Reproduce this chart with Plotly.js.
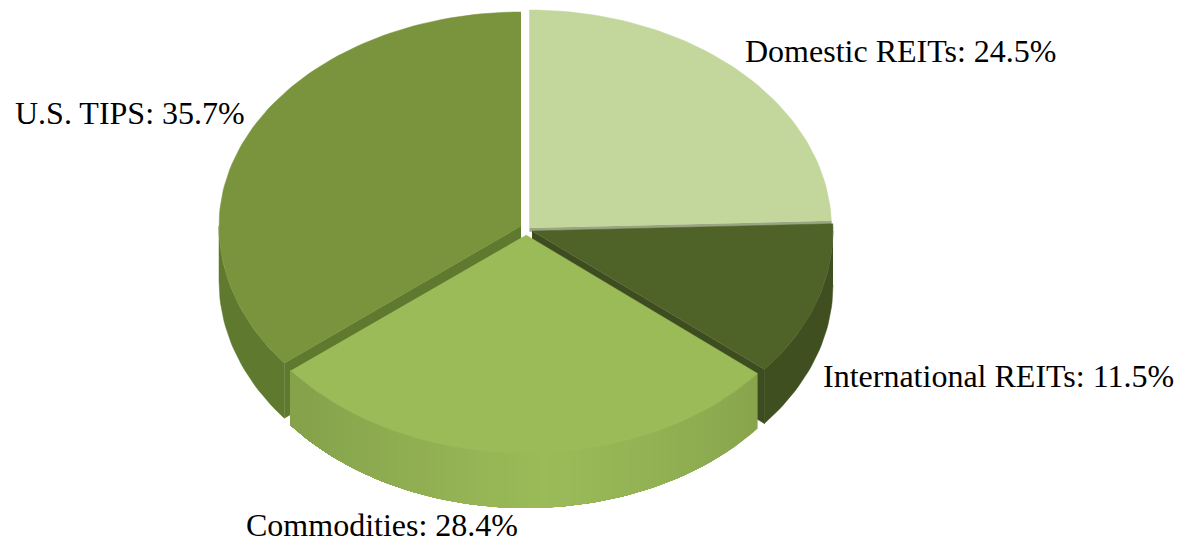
<!DOCTYPE html>
<html>
<head>
<meta charset="utf-8">
<script src="https://cdn.plot.ly/plotly-3.0.1.min.js"></script>
<style>html,body{margin:0;padding:0;background:#fff}#chart{width:1183px;height:543px}</style>
</head>
<body>
<div id="chart"></div>
<script>
// ---- data ----
const categories = ["Domestic REITs", "International REITs", "Commodities", "U.S. TIPS"];
const shares = [24.5, 11.5, 28.4, 35.7];

// ---- styling / geometry of the tilted, exploded pie ----
const topColors  = ["#C3D69B", "#4F6228", "#9BBB59", "#7A943E"];
const wallEdge   = ["#AEBF8A", "#3F4F20", "#86A34B", "#5F7A2E"];
const wallMiddle = ["#AEBF8A", "#3F4F20", "#9BBB59", "#5F7A2E"];
const cutColors  = ["#9AA681", "#3E4D1F", "#86A34B", "#5F7A2E"];
const centerX = [529.5, 532, 526, 521];
const centerY = [228, 231, 235, 226];
const radiusX = [302, 301, 300, 302];
const radiusBack = [218, 218, 218, 214];
const radiusFront = [218, 218, 218, 221];
const depth = [4, 54, 55, 55];
const cutDepth = [3.5, 54, null, 55];
const labelX = [743, 821, 244, 13];
const labelY = [51, 376, 525, 113];
const STEP = 1.5, STRIP = 2;

const total = shares.reduce((a, b) => a + b, 0);
const rad = d => d * Math.PI / 180;
function pt(i, deg, dy) {
  const c = Math.cos(rad(deg)), ry = c > 0 ? radiusBack[i] : radiusFront[i];
  return [centerX[i] + radiusX[i] * Math.sin(rad(deg)), centerY[i] - ry * c + (dy || 0)];
}
function arc(i, a, b, dy) {
  const out = [], n = Math.max(1, Math.ceil(Math.abs(b - a) / STEP));
  for (let k = 0; k <= n; k++) out.push(pt(i, a + (b - a) * k / n, dy));
  return out;
}
function poly(points, color, name, lineWidth) {
  return {
    type: "scatter", mode: "lines", fill: "toself", fillcolor: color,
    x: points.map(p => p[0]), y: points.map(p => p[1]),
    line: {color: color, width: lineWidth}, name: name, hoverinfo: "skip", showlegend: false
  };
}
function mix(a, b, t) {
  const h = s => [1, 3, 5].map(j => parseInt(s.substr(j, 2), 16));
  const A = h(a), B = h(b);
  return "rgb(" + A.map((v, j) => Math.round(v + (B[j] - v) * t)).join(",") + ")";
}

let start = 0;
const spans = shares.map(v => { const s = [start, start + v / total * 360]; start = s[1]; return s; });

// painter's order: back cut faces and walls first, Commodities in front
const order = [0, 1, 3, 2];
const traces = [];
order.forEach(i => {
  const [a0, a1] = spans[i];
  const name = categories[i];
  // cut face showing beside the neighbouring slice
  if (cutDepth[i] !== null) {
    const cutAngle = i === 3 ? a0 : a1;
    const edge = pt(i, cutAngle), c = [centerX[i], centerY[i]], h = cutDepth[i];
    traces.push(poly([c, edge, [edge[0], edge[1] + h], [c[0], c[1] + h]], cutColors[i], name + " cut", 0.5));
  }
  // outer wall: only the front half of the rim can be seen
  const from = Math.max(a0, 90), to = Math.min(a1, 270);
  if (to > from) {
    if (wallEdge[i] === wallMiddle[i]) {
      traces.push(poly(arc(i, from, to, 0).concat(arc(i, to, from, depth[i])), wallEdge[i], name + " wall", 0.5));
    } else {
      for (let d = from; d < to; d += STRIP) {
        const t = 1 - Math.min(1, Math.abs(d + STRIP / 2 - 176) / 50);
        traces.push(poly(arc(i, d, to, 0).concat(arc(i, to, d, depth[i])), mix(wallEdge[i], wallMiddle[i], t), name + " wall", 0));
      }
    }
  }
  // top surface
  traces.push(poly([[centerX[i], centerY[i]]].concat(arc(i, a0, a1, 0)), topColors[i], name, 0.5));
});

const annotations = categories.map((c, i) => ({
  x: labelX[i], y: labelY[i], xref: "x", yref: "y", xanchor: "left", yanchor: "middle",
  text: c + ": " + shares[i].toFixed(1) + "%", showarrow: false,
  font: {family: "'Liberation Serif', serif", size: 32, color: "#000"}
}));

Plotly.newPlot("chart", traces, {
  width: 1183, height: 543,
  margin: {l: 0, r: 0, t: 0, b: 0},
  paper_bgcolor: "#fff", plot_bgcolor: "#fff", showlegend: false,
  xaxis: {range: [0, 1183], visible: false, fixedrange: true},
  yaxis: {range: [543, 0], visible: false, fixedrange: true},
  annotations: annotations, hovermode: false
}, {displayModeBar: false, staticPlot: true});
</script>
</body>
</html>
